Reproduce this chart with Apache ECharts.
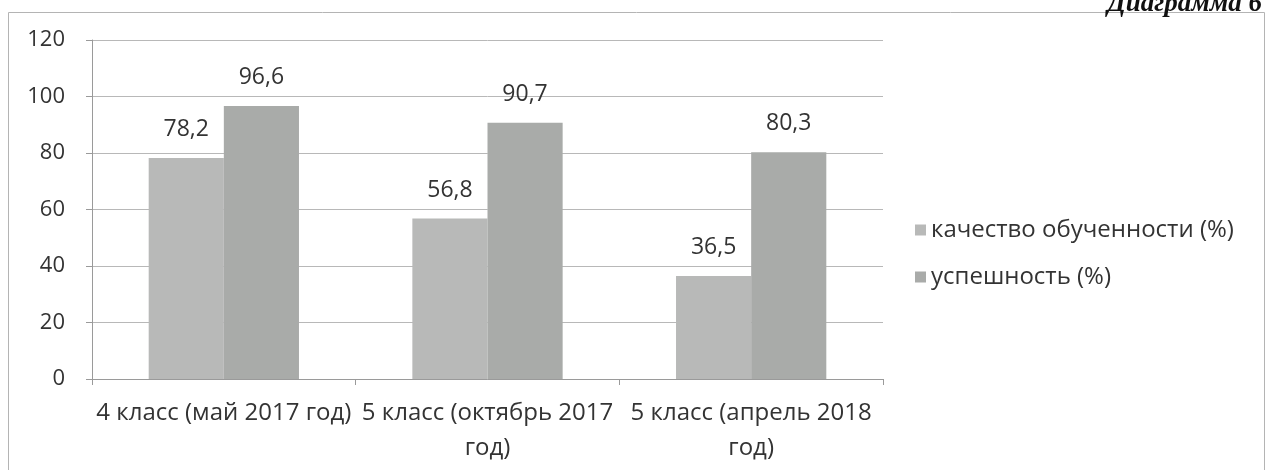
<!DOCTYPE html>
<html>
<head>
<meta charset="utf-8">
<script src="https://cdn.jsdelivr.net/npm/echarts@6/dist/echarts.min.js"></script>
<style>
  html, body { margin: 0; padding: 0; background: #fff; }
  #chart { width: 1267px; height: 470px; }
</style>
</head>
<body>
<div id="chart"></div>
<script>
// данные диаграммы
const categories = ['4 класс (май 2017 год)', '5 класс (октябрь 2017\nгод)', '5 класс (апрель 2018\nгод)']
const seriesNames = ['качество обученности (%)', 'успешность (%)']
const quality = [78.2, 56.8, 36.5]
const success = [96.6, 90.7, 80.3]
const yTicks = [0, 20, 40, 60, 80, 100, 120]

const font = '"Open Sans", "Noto Sans", sans-serif'
const chart = echarts.init(document.getElementById('chart'))

const fmt = (v) => String(v).replace('.', ',')

const option = {
  backgroundColor: '#fff',
  animation: false,
  textStyle: { fontFamily: font },
  graphic: [
    {
      type: 'rect',
      shape: { x: 8.5, y: 12.5, width: 1256, height: 470 },
      style: { fill: 'none', stroke: '#b4b4b4', lineWidth: 1 },
      silent: true
    },
    {
      type: 'text',
      right: 5,
      top: -9,
      style: {
        text: 'Диаграмма 6',
        font: 'italic bold 27px "Liberation Serif", serif',
        fill: '#111'
      }
    }
  ],
  grid: { left: 92, right: 384, top: 40, bottom: 91 },
  legend: {
    orient: 'vertical',
    left: 910,
    top: 213,
    itemWidth: 11,
    itemHeight: 11,
    itemGap: 23,
    icon: 'rect',
    textStyle: { fontFamily: font, fontSize: 24, color: '#333', lineHeight: 22 }
  },
  xAxis: {
    type: 'category',
    data: categories,
    axisLine: { lineStyle: { color: '#9a9a9a' } },
    axisTick: { show: true, length: 6, lineStyle: { color: '#9a9a9a' } },
    axisLabel: {
      fontFamily: font,
      fontSize: 24,
      color: '#333',
      margin: 17,
      lineHeight: 35,
      interval: 0
    }
  },
  yAxis: {
    type: 'value',
    min: 0,
    max: 120,
    interval: 20,
    axisLine: { show: true, lineStyle: { color: '#9a9a9a' } },
    axisTick: { show: true, length: 6, lineStyle: { color: '#9a9a9a' } },
    axisLabel: {
      fontFamily: font,
      fontSize: 22,
      color: '#333',
      margin: 27,
      formatter: (v) => yTicks.includes(v) ? String(v) : ''
    },
    splitLine: { lineStyle: { color: '#b8b8b8' } }
  },
  series: [
    {
      name: seriesNames[0],
      type: 'bar',
      data: quality,
      barGap: '0%',
      barCategoryGap: '43%',
      itemStyle: { color: '#b8b9b8' },
      label: {
        show: true,
        position: 'top',
        distance: 17,
        fontFamily: font,
        fontSize: 23,
        color: '#333',
        formatter: (p) => fmt(p.value)
      }
    },
    {
      name: seriesNames[1],
      type: 'bar',
      data: success,
      itemStyle: { color: '#a9aba9' },
      label: {
        show: true,
        position: 'top',
        distance: 17,
        fontFamily: font,
        fontSize: 23,
        color: '#333',
        formatter: (p) => fmt(p.value)
      }
    }
  ]
}

chart.setOption(option)
</script>
</body>
</html>
